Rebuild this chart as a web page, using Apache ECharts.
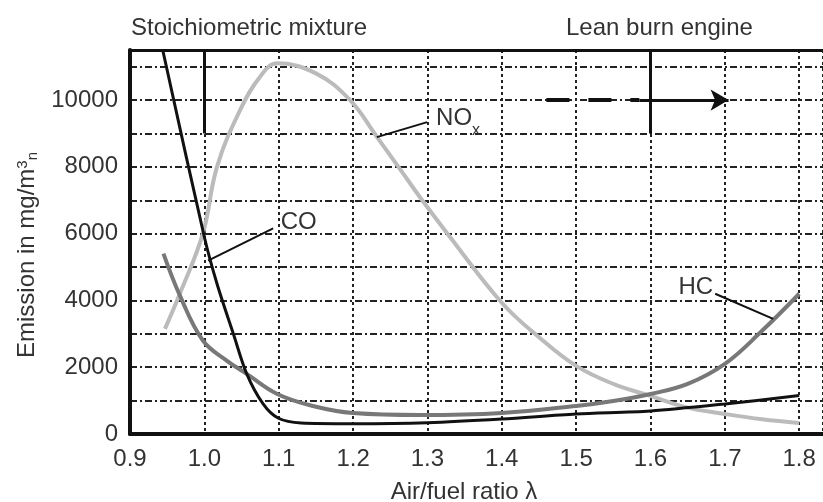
<!DOCTYPE html>
<html>
<head>
<meta charset="utf-8">
<script src="https://cdn.jsdelivr.net/npm/echarts@6/dist/echarts.min.js"></script>
<style>
  html, body { margin: 0; padding: 0; background: #fff; }
  #chart { width: 823px; height: 502px; }
</style>
</head>
<body>
<div id="chart"></div>
<script>
// air/fuel ratio lambda and emissions (mg/m3n)
const coLambda = [0.944, 1.0, 1.017, 1.039, 1.057, 1.079, 1.099, 1.13, 1.2, 1.3, 1.4, 1.5, 1.6, 1.7, 1.8]
const coValues = [11500, 5900, 4500, 3000, 1800, 900, 480, 330, 310, 340, 450, 600, 690, 900, 1150]

const noxLambda = [0.947, 0.967, 0.998, 1.017, 1.048, 1.075, 1.098, 1.15, 1.196, 1.232, 1.261, 1.293, 1.327, 1.4, 1.45, 1.5, 1.55, 1.6, 1.65, 1.7, 1.75, 1.8]
const noxValues = [3150, 4200, 6000, 8000, 9700, 10700, 11100, 10800, 10000, 8900, 8000, 7000, 6000, 3930, 2900, 2040, 1500, 1140, 790, 600, 440, 330]

const hcLambda = [0.945, 0.967, 0.998, 1.03, 1.057, 1.098, 1.146, 1.2, 1.29, 1.4, 1.5, 1.55, 1.6, 1.65, 1.7, 1.75, 1.8]
const hcValues = [5400, 4150, 2800, 2200, 1800, 1200, 840, 630, 570, 630, 840, 990, 1200, 1500, 2100, 3090, 4200]

const xTicks = [0.9, 1.0, 1.1, 1.2, 1.3, 1.4, 1.5, 1.6, 1.7, 1.8]
const yTicks = [0, 2000, 4000, 6000, 8000, 10000]

const font = 'Liberation Sans, Arial, sans-serif'
const textColor = '#333'

function pairs(xs, ys) {
  return xs.map((x, i) => [x, ys[i]])
}

const chart = echarts.init(document.getElementById('chart'))

chart.setOption({
  animation: false,
  textStyle: { fontFamily: font },
  grid: { left: 130, right: 0, top: 50, bottom: 68, containLabel: false, outerBoundsMode: 'none' },
  graphic: [
    {
      type: 'text',
      left: 131,
      top: 16,
      style: { text: 'Stoichiometric mixture', fontSize: 24, fontFamily: font, fill: textColor },
    },
    {
      type: 'text',
      left: 566,
      top: 16,
      style: { text: 'Lean burn engine', fontSize: 24, fontFamily: font, fill: textColor },
    },
  ],
  xAxis: [
    {
      type: 'value',
      min: 0.9,
      max: 1.832,
      interval: 0.1,
      name: 'Air/fuel ratio λ',
      nameLocation: 'middle',
      nameGap: 46,
      nameTextStyle: { fontSize: 24, color: textColor, padding: [0, 25, 0, 0] },
      axisLine: { show: true, onZero: false, lineStyle: { color: '#111', width: 4 } },
      axisTick: { show: false },
      axisLabel: {
        fontSize: 24,
        color: textColor,
        margin: 13,
        showMaxLabel: false,
        formatter: (v) => {
          const hit = xTicks.find((t) => Math.abs(t - v) < 1e-6)
          return hit === undefined ? '' : hit.toFixed(1)
        },
      },
      splitLine: { show: true, lineStyle: { color: '#222', width: 2, type: [3, 3] } },
    },
    {
      type: 'value',
      position: 'top',
      min: 0.9,
      max: 1.832,
      axisLine: { show: true, onZero: false, lineStyle: { color: '#111', width: 3 } },
      axisTick: { show: false },
      axisLabel: { show: false },
      splitLine: { show: false },
    },
  ],
  yAxis: {
    type: 'value',
    min: 0,
    max: 11500,
    interval: 1000,
    name: '{t|Emission in mg/m}{sup|3}{sub|n}',
    nameLocation: 'middle',
    nameGap: 88,
    nameTextStyle: {
      color: textColor,
      padding: [0, 26, 0, 0],
      rich: {
        t: { fontSize: 24, color: textColor, fontFamily: font },
        sup: { fontSize: 15, color: textColor, fontFamily: font, verticalAlign: 'top', padding: [0, 0, 10, 0] },
        sub: { fontSize: 15, color: textColor, fontFamily: font, verticalAlign: 'bottom', padding: [0, 0, 0, 0] },
      },
    },
    axisLine: { show: true, onZero: false, lineStyle: { color: '#111', width: 4 } },
    axisTick: { show: false },
    axisLabel: {
      fontSize: 24,
      color: textColor,
      margin: 12,
      showMaxLabel: false,
      formatter: (v) => (yTicks.includes(v) ? String(v) : ''),
    },
    splitLine: { show: true, lineStyle: { color: '#222', width: 2, type: [7, 3, 2, 3] } },
  },
  series: [
    {
      name: 'NOx',
      type: 'line',
      data: pairs(noxLambda, noxValues),
      smooth: 0.4,
      symbol: 'none',
      lineStyle: { color: '#bbbbbb', width: 4 },
      z: 3,
      markLine: {
        silent: true,
        symbol: ['none', 'none'],
        label: { show: false },
        lineStyle: { color: '#111', width: 2, type: 'solid' },
        data: [[{ coord: [1.232, 8890] }, { coord: [1.2997, 9340] }]],
      },
      markPoint: {
        silent: true,
        symbol: 'rect',
        symbolSize: 1,
        itemStyle: { color: 'transparent' },
        label: {
          show: true,
          position: 'right',
          distance: 0,
          formatter: '{a|NO}{b|x}',
          rich: {
            a: { fontSize: 24, color: textColor, fontFamily: font },
            b: { fontSize: 16, color: textColor, fontFamily: font, verticalAlign: 'bottom', padding: [0, 0, -8, 0] },
          },
        },
        data: [{ coord: [1.311, 9460] }],
      },
    },
    {
      name: 'HC',
      type: 'line',
      data: pairs(hcLambda, hcValues),
      smooth: 0.4,
      symbol: 'none',
      lineStyle: { color: '#787878', width: 4 },
      z: 4,
      markLine: {
        silent: true,
        symbol: ['none', 'none'],
        label: { show: false },
        lineStyle: { color: '#111', width: 2, type: 'solid' },
        data: [[{ coord: [1.687, 4200] }, { coord: [1.765, 3450] }]],
      },
      markPoint: {
        silent: true,
        symbol: 'rect',
        symbolSize: 1,
        itemStyle: { color: 'transparent' },
        label: { show: true, position: 'left', distance: 0, formatter: 'HC', fontSize: 24, color: textColor },
        data: [{ coord: [1.685, 4380] }],
      },
    },
    {
      name: 'CO',
      type: 'line',
      data: pairs(coLambda, coValues),
      smooth: 0.3,
      symbol: 'none',
      lineStyle: { color: '#111', width: 3 },
      z: 5,
      markLine: {
        silent: true,
        symbol: ['none', 'none'],
        label: { show: false },
        lineStyle: { color: '#111', width: 2, type: 'solid' },
        data: [[{ coord: [1.0925, 6156] }, { coord: [1.005, 5195] }]],
      },
      markPoint: {
        silent: true,
        symbol: 'rect',
        symbolSize: 1,
        itemStyle: { color: 'transparent' },
        label: { show: true, position: 'right', distance: 0, formatter: 'CO', fontSize: 24, color: textColor },
        data: [{ coord: [1.102, 6336] }],
      },
    },
    {
      name: 'markers',
      type: 'line',
      data: [],
      markLine: {
        silent: true,
        label: { show: false },
        symbol: ['none', 'none'],
        lineStyle: { color: '#111', width: 3, type: 'solid' },
        data: [
          [{ coord: [1.0, 9000] }, { coord: [1.0, 11500] }],
          [{ coord: [1.6, 9000] }, { coord: [1.6, 11500] }],
          [
            { coord: [1.46, 10000], lineStyle: { type: [23, 19], width: 4 } },
            { coord: [1.585, 10000] },
          ],
          [
            { coord: [1.585, 10000], symbol: 'none', lineStyle: { width: 3 } },
            { coord: [1.705, 10000], symbol: 'arrow', symbolSize: [16, 18] },
          ],
        ],
      },
    },
  ],
})
</script>
</body>
</html>
